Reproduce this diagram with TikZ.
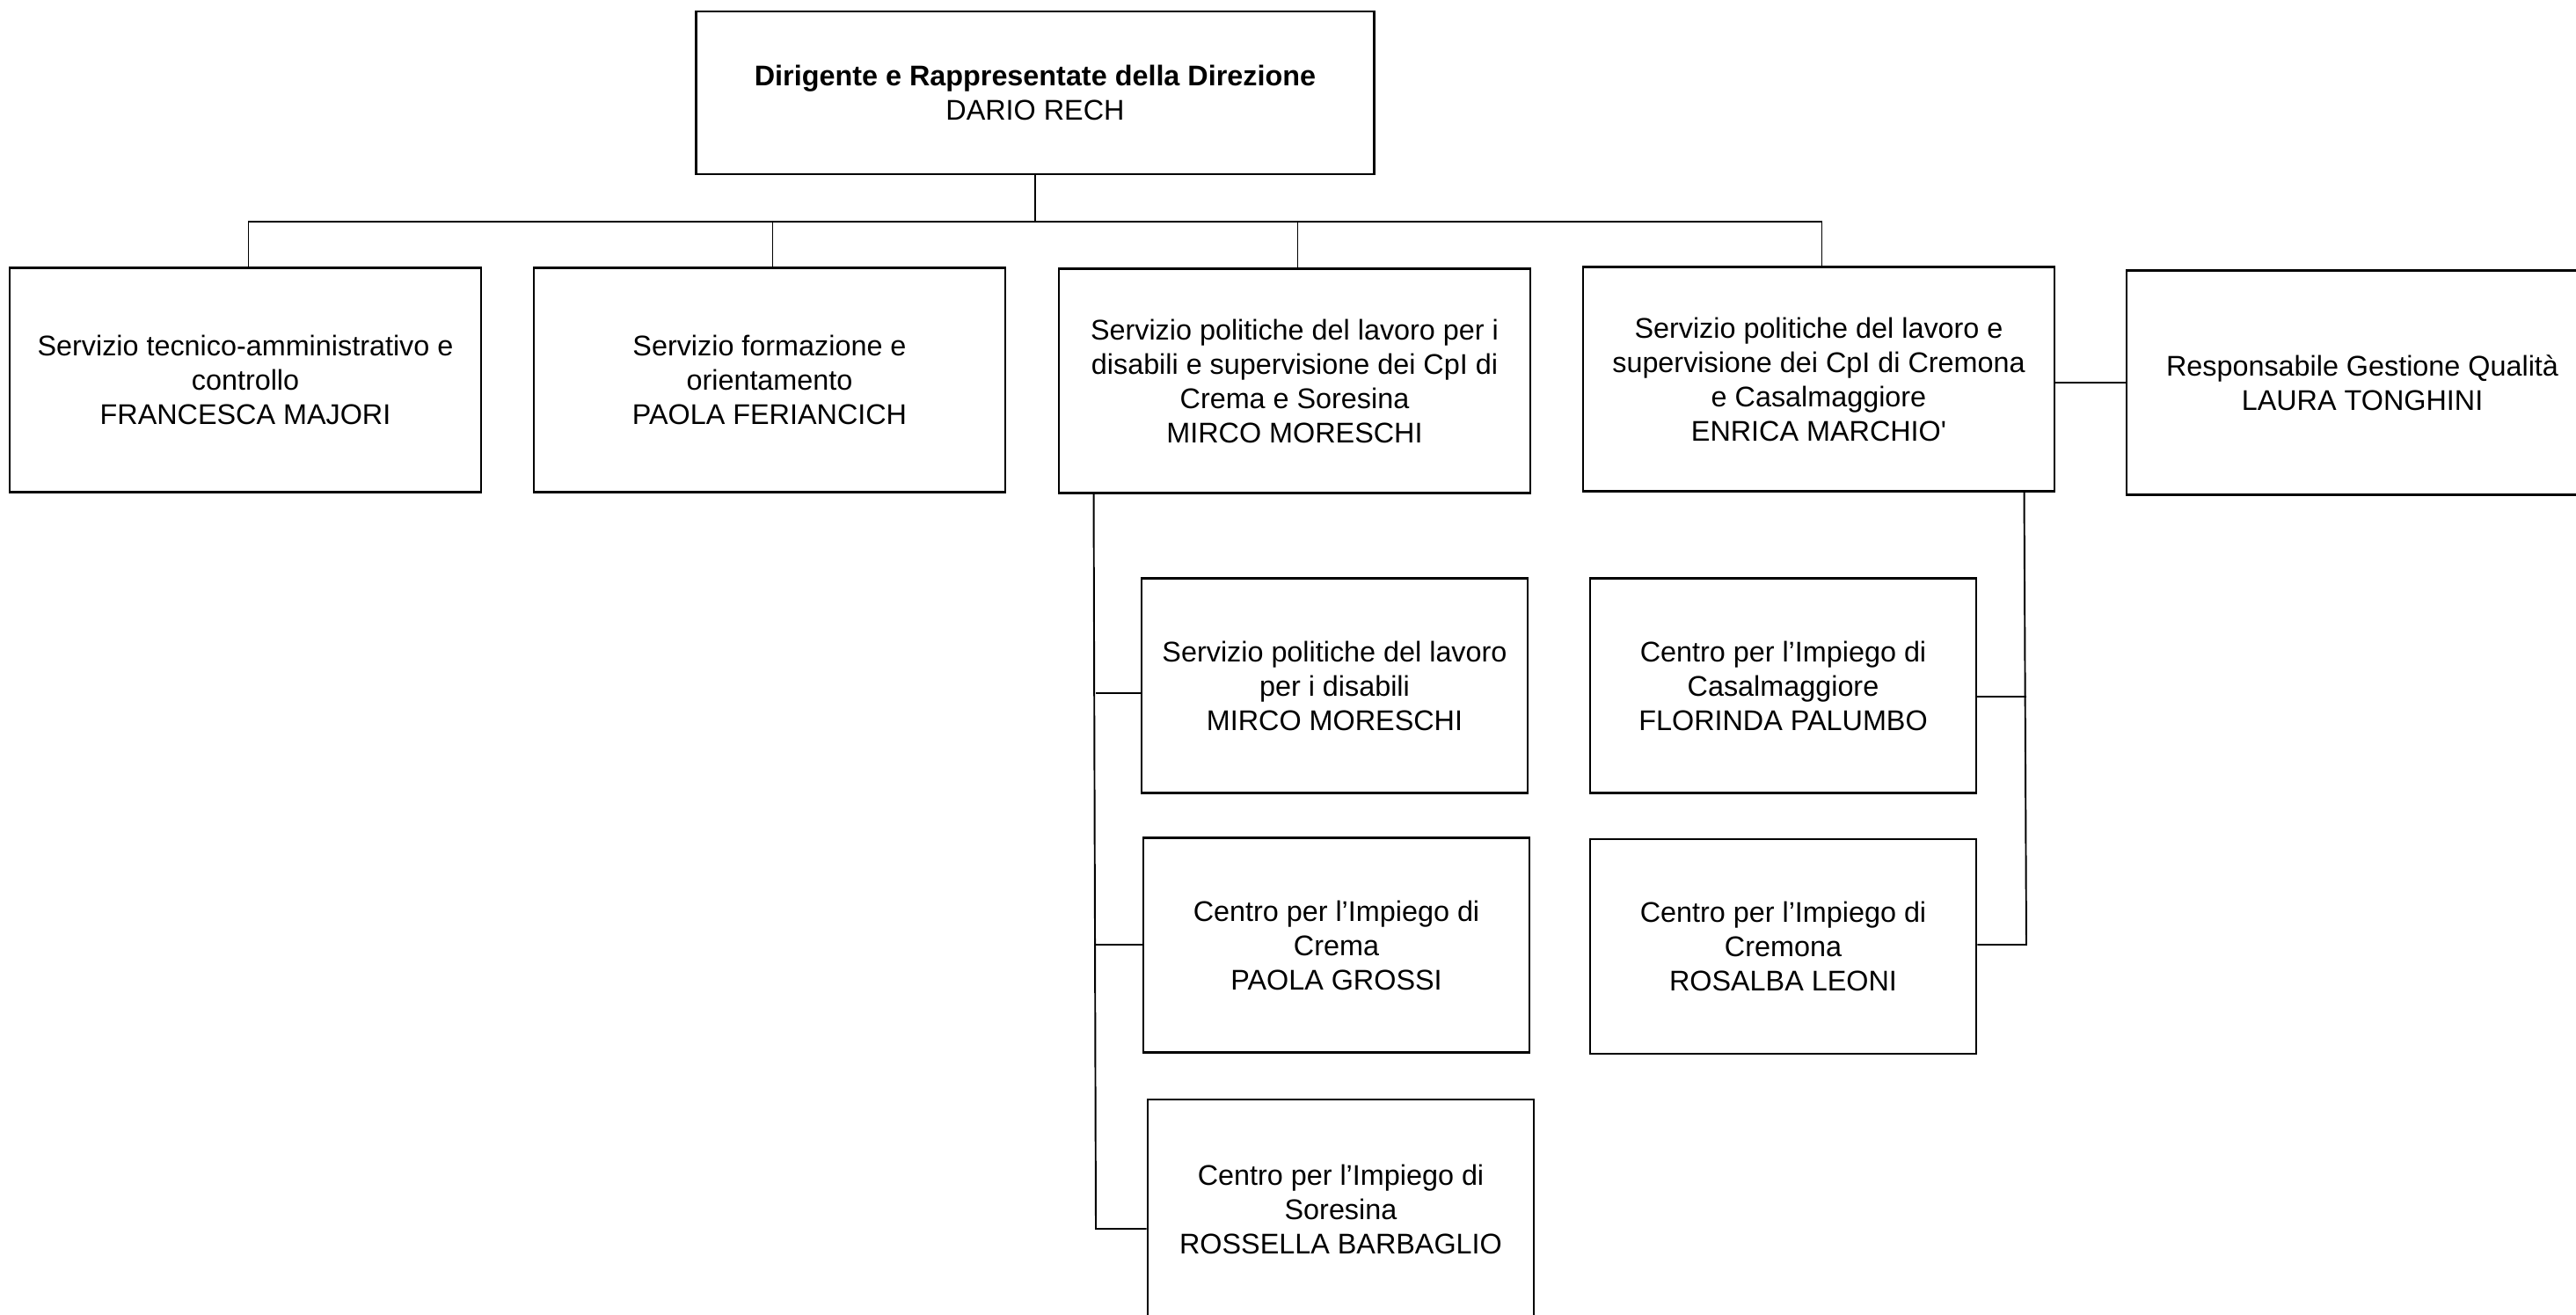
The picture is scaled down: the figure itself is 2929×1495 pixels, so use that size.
\documentclass[tikz,border=0pt]{standalone}
\usepackage{fontspec}
\setmainfont{Liberation Sans}
\tikzset{
  box/.style={draw, line width=0.75pt, inner sep=0pt, align=center,
    font=\fontsize{9.2}{11.1}\selectfont},
  big/.style={box, minimum width=5.36cm, minimum height=2.55cm},
  small/.style={box, minimum width=4.39cm, minimum height=2.44cm},
  conn/.style={line width=0.55pt}
}
\begin{document}
\begin{tikzpicture}[x=0.01cm, y=-0.01cm]
\useasboundingbox (0,0) rectangle (2929,1495);
\node[box, minimum width=7.7cm, minimum height=1.85cm] (top) at (1177,105.5)
  {\textbf{Dirigente e Rappresentate della Direzione}\\DARIO RECH};
\node[big] (b1) at (279,432) {Servizio tecnico-amministrativo e\\controllo\\FRANCESCA MAJORI};
\node[big] (b2) at (875,432) {Servizio formazione e\\orientamento\\PAOLA FERIANCICH};
\node[big] (b3) at (1472,433) {Servizio politiche del lavoro per i\\disabili e supervisione dei CpI di\\Crema e Soresina\\MIRCO MORESCHI};
\node[big] (b4) at (2068,431) {Servizio politiche del lavoro e\\supervisione dei CpI di Cremona\\e Casalmaggiore\\ENRICA MARCHIO\textquotesingle};
\node[big] (b5) at (2686,435) {Responsabile Gestione Qualità\\LAURA TONGHINI};
\node[small] (A) at (1517.5,779.5) {Servizio politiche del lavoro\\per i disabili\\MIRCO MORESCHI};
\node[small] (B) at (1519.5,1074.5) {Centro per l’Impiego di\\Crema\\PAOLA GROSSI};
\node[small, minimum height=2.5cm] (C) at (1524.5,1375) {Centro per l’Impiego di\\Soresina\\ROSSELLA BARBAGLIO};
\node[small] (D) at (2027.5,779.5) {Centro per l’Impiego di\\Casalmaggiore\\FLORINDA PALUMBO};
\node[small] (E) at (2027.5,1076) {Centro per l’Impiego di\\Cremona\\ROSALBA LEONI};
% top level bus
\coordinate (bus) at (1177,252);
\draw[conn] (top.south) -- (bus);
\draw[conn] ([xshift=0.035cm]b1.north) -- ([xshift=0.035cm]b1.north |- bus)
  -- ([xshift=0.035cm]b4.north |- bus) -- ([xshift=0.035cm]b4.north);
\draw[conn] ([xshift=0.035cm]b2.north) -- ([xshift=0.035cm]b2.north |- bus);
\draw[conn] ([xshift=0.035cm]b3.north) -- ([xshift=0.035cm]b3.north |- bus);
\draw[conn] (b4.east |- b5.west) -- (b5.west);
% left subtree
\path (b3.south west) ++(41,0) coordinate (lt);
\coordinate (la) at (1246,788);
\coordinate (lb) at (1246,1074);
\coordinate (lc) at (1246,1397);
\draw[conn] (lt) -- (lc) -- (C.west |- lc);
\draw[conn] (la) -- (A.west |- la);
\draw[conn] (lb) -- (B.west |- lb);
% right subtree
\path (b4.south west) ++(503,0) coordinate (rt);
\coordinate (rd) at (2304,792);
\coordinate (re) at (2304,1074);
\draw[conn] (rt) -- (re) -- (E.east |- re);
\draw[conn] (rd) -- (D.east |- rd);
\end{tikzpicture}
\end{document}
